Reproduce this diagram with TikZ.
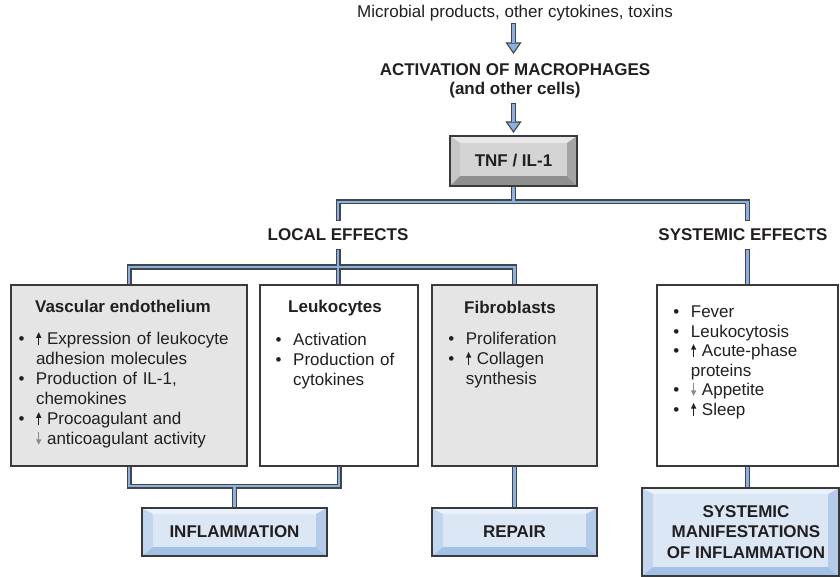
\documentclass[tikz,border=0pt]{standalone}
\usepackage{fontspec}
\setmainfont{Liberation Sans}
\usetikzlibrary{calc,backgrounds}
\definecolor{pipeo}{HTML}{3F4650}
\definecolor{pipei}{HTML}{8DB0DC}
\definecolor{boxline}{HTML}{3A3A3A}
\definecolor{boxgray}{HTML}{E5E5E6}
\definecolor{txt}{HTML}{231F20}
\definecolor{arrgray}{HTML}{8A8A8A}
\definecolor{gface}{HTML}{D4D4D4}
\definecolor{gtop}{HTML}{E8E8E8}
\definecolor{gleft}{HTML}{C6C6C6}
\definecolor{gright}{HTML}{A4A4A4}
\definecolor{gbot}{HTML}{8F8F8F}
\definecolor{bface}{HTML}{DCE7F5}
\definecolor{btop}{HTML}{EAF1FA}
\definecolor{bleft}{HTML}{C3D6EF}
\definecolor{bright}{HTML}{B4CCEA}
\definecolor{bbot}{HTML}{A3C0E5}
\newcommand{\headfont}{\bfseries\fontsize{17}{19}\selectfont}
\newcommand{\bodyfont}{\fontsize{17}{20}\selectfont}
\newcommand{\sysfont}{\fontsize{17}{19.6}\selectfont}
\newcommand{\bl}{\makebox[17.5pt][l]{\textbullet}}
\newcommand{\ind}{\hspace*{17.5pt}}
\newcommand{\uarr}{\tikz[baseline=0pt]{\fill[txt] (-0.65pt,0pt) rectangle (0.65pt,8pt); \fill[txt] (-2.7pt,7pt) -- (0pt,12.5pt) -- (2.7pt,7pt) -- cycle;}}
\newcommand{\darr}{\tikz[baseline=0pt]{\fill[arrgray] (-0.65pt,4.5pt) rectangle (0.65pt,12.5pt); \fill[arrgray] (-2.7pt,5.5pt) -- (0pt,0pt) -- (2.7pt,5.5pt) -- cycle;}}
\newcommand{\bevel}[9]{%
  \coordinate (#1-a) at ($(#1.north west)+(#2,#3)$);
  \coordinate (#1-b) at ($(#1.north east)+(-#2,#3)$);
  \coordinate (#1-c) at ($(#1.south east)+(-#2,-#4)$);
  \coordinate (#1-d) at ($(#1.south west)+(#2,-#4)$);
  \fill[#6] (#1.north west) -- (#1.north east) -- (#1-b) -- (#1-a) -- cycle;
  \fill[#7] (#1.north west) -- (#1-a) -- (#1-d) -- (#1.south west) -- cycle;
  \fill[#8] (#1.north east) -- (#1.south east) -- (#1-c) -- (#1-b) -- cycle;
  \fill[#9] (#1.south west) -- (#1-d) -- (#1-c) -- (#1.south east) -- cycle;
  \fill[#5] (#1-a) rectangle (#1-c);
  \draw[boxline, line width=1.2pt] (#1.north west) rectangle (#1.south east);
}
\newcommand{\allpipes}[2]{%
  \draw[#1] (tnf.south) -- (tnf.south |- j1);
  \draw[#1, shorten <=#2, shorten >=#2] (lochdr.north) -- (lochdr.north |- j1) -- (sysbox.north |- j1) -- (sysbox.north |- syshdr.north);
  \draw[#1] (vasc.north) -- (vasc.north |- j2) -- (fib.north |- j2) -- (fib.north);
  \draw[#1, shorten <=#2] (lochdr.south) -- (lochdr.south |- leuk.north);
  \draw[#1, shorten <=#2] (sysbox.north |- syshdr.south) -- (sysbox.north);
  \draw[#1] (vasc.south) -- (vasc.south |- j3) -- (leuk.south |- j3) -- (leuk.south);
  \draw[#1] (infl.north) -- (infl.north |- j3);
  \draw[#1] (fib.south) -- (fib.south |- repair.north);
  \draw[#1] (sysbox.south) -- (sysbox.south |- sysman.north);
}
\newcommand{\bigarrow}[2]{%
  \draw[pipeouter] (#1) -- ($(#2)+(0,-9)$);
  \filldraw[fill=pipei, draw=pipeo, line width=1.1pt, line join=miter] ($(#2)+(-7,-10)$) -- (#2) -- ($(#2)+(7,-10)$) -- cycle;
  \draw[pipeinner, shorten <=1.2pt] (#1) -- ($(#2)+(0,-9.5)$);
}
\tikzset{
  plainbox/.style={draw=boxline, line width=1.2pt, inner sep=0pt, outer sep=0pt, anchor=north west},
  graybox/.style={plainbox, fill=boxgray},
  whitebox/.style={plainbox, fill=white},
  bevbox/.style={inner sep=0pt, outer sep=0pt, anchor=north west, font=\headfont, align=center, text=txt},
  hdr/.style={font=\headfont, text=txt, anchor=base, inner xsep=0pt, inner ysep=8pt, text height=12pt, text depth=0pt},
  ttl/.style={font=\headfont, text=txt, anchor=base, inner sep=0pt},
  lst/.style={text=txt, anchor=base west, inner sep=0pt, align=left, text width=#1},
  pipeouter/.style={draw=pipeo, line width=5pt, line join=miter, line cap=butt},
  pipeinner/.style={draw=pipei, line width=2.6pt, line join=miter, line cap=butt},
}
\begin{document}
\begin{tikzpicture}[x=1pt, y=-1pt]
\useasboundingbox (0,0) rectangle (840,577);
% header texts
\node[font=\fontsize{17}{19}\selectfont, text=txt, anchor=base, inner xsep=0pt, inner ysep=5.5pt, text depth=0pt] (micro) at (515,17.5) {Microbial products, other cytokines, toxins};
\node[font=\headfont, text=txt, anchor=base, inner sep=0pt, align=center] (act) at (515,95) {ACTIVATION OF MACROPHAGES\\(and other cells)};
% bevelled boxes (text only; faces drawn on background)
\node[bevbox, minimum width=127pt, minimum height=50pt] (tnf) at (450,136) {TNF / IL-1};
\node[bevbox, minimum width=185pt, minimum height=48pt] (infl) at (142,508) {INFLAMMATION};
\node[bevbox, minimum width=165pt, minimum height=48pt] (repair) at (432,508) {REPAIR};
\node[bevbox, minimum width=197pt, minimum height=88pt] (sysman) at (642,488) {};
\node[font=\fontsize{17}{20.5}\selectfont\bfseries, text=txt, align=center, inner sep=0pt] (sysmantxt) at (746,532) {SYSTEMIC\\MANIFESTATIONS\\OF INFLAMMATION};
% section headers
\node[hdr] (lochdr) at (338,241) {LOCAL EFFECTS};
\node[hdr] (syshdr) at (743,241) {SYSTEMIC EFFECTS};
% effect boxes
\node[graybox, minimum width=236pt, minimum height=181pt] (vasc) at (11,285) {};
\node[whitebox, minimum width=158pt, minimum height=181pt] (leuk) at (260,285) {};
\node[graybox, minimum width=165pt, minimum height=181pt] (fib) at (432,285) {};
\node[whitebox, minimum width=181pt, minimum height=181pt] (sysbox) at (657,285) {};
% titles
\node[ttl] (vasct) at (123,312) {Vascular endothelium};
\node[ttl] (leukt) at (335,312.5) {Leukocytes};
\node[ttl] (fibt) at (510,313) {Fibroblasts};
% lists
\node[lst=225pt, font=\bodyfont] (vascl) at (18.3,344.8) {\bl\uarr{} Expression of leukocyte\\
\ind adhesion molecules\\
\bl Production of IL-1,\\
\ind chemokines\\
\bl\uarr{} Procoagulant and\\
\ind\darr{} anticoagulant activity};
\node[lst=140pt, font=\bodyfont] (leukl) at (275.5,345.5) {\bl Activation\\
\bl Production of\\
\ind cytokines};
\node[lst=145pt, font=\bodyfont] (fibl) at (448.2,344.5) {\bl Proliferation\\
\bl\uarr{} Collagen\\
\ind synthesis};
\node[lst=160pt, font=\sysfont] (sysl) at (673.2,317.5) {\bl Fever\\
\bl Leukocytosis\\
\bl\uarr{} Acute-phase\\
\ind proteins\\
\bl\darr{} Appetite\\
\bl\uarr{} Sleep};
% junctions
\coordinate (j1) at (515,202);
\coordinate (j2) at (338,267);
\coordinate (j3) at (235,486);
% arrow end points
\coordinate (a1s) at (513.5,23);
\coordinate (a1t) at (513.5,53);
\coordinate (a2s) at (513.5,103);
\coordinate (a2t) at ($(tnf.north)+(0,-4)$);
\begin{scope}[on background layer]
  \fill[white] (0,0) rectangle (840,577);
  \allpipes{pipeouter}{0pt}
  \allpipes{pipeinner}{1.2pt}
  \bevel{tnf}{10}{7}{10}{gface}{gtop}{gleft}{gright}{gbot}
  \bevel{infl}{11}{6}{9}{bface}{btop}{bleft}{bright}{bbot}
  \bevel{repair}{11}{6}{9}{bface}{btop}{bleft}{bright}{bbot}
  \bevel{sysman}{11}{6}{9}{bface}{btop}{bleft}{bright}{bbot}
\end{scope}
\bigarrow{a1s}{a1t}
\bigarrow{a2s}{a2t}
\end{tikzpicture}
\end{document}
